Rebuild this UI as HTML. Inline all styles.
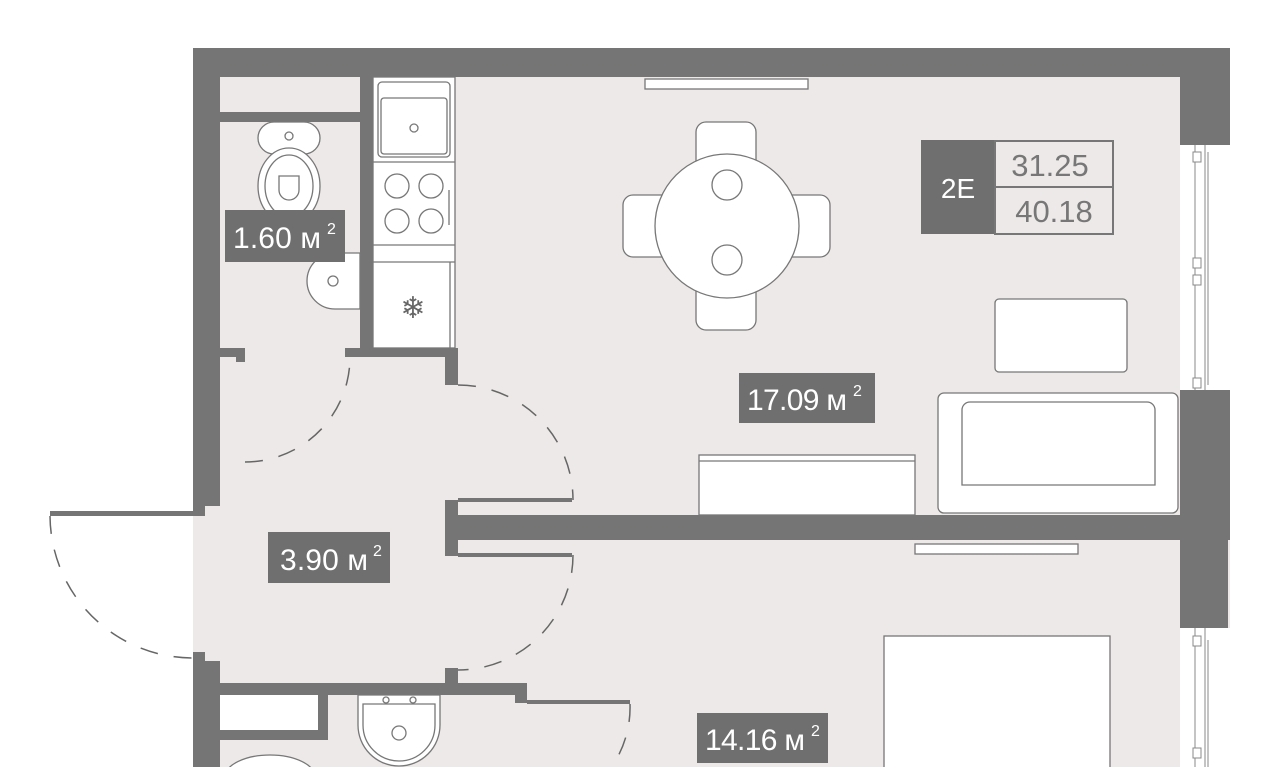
<!DOCTYPE html>
<html><head><meta charset="utf-8"><style>
html,body{margin:0;padding:0;background:#fff;width:1280px;height:767px;overflow:hidden}
svg{display:block}
text{font-family:"Liberation Sans",sans-serif;}
</style></head><body>
<svg width="1280" height="767" viewBox="0 0 1280 767" xmlns="http://www.w3.org/2000/svg">
<rect x="193" y="48" width="1037" height="719" fill="#ede9e8"/>
<g fill="#757575">
<rect x="193" y="48" width="1037" height="29"/>
<rect x="193" y="48" width="27" height="458"/>
<rect x="193" y="661" width="27" height="106"/>
<rect x="193" y="506" width="12" height="10"/>
<rect x="193" y="652" width="12" height="10"/>
<rect x="1180" y="48" width="50" height="97"/>
<rect x="1180" y="390" width="50" height="125"/>
<rect x="1180" y="515" width="48" height="113"/>
<rect x="220" y="112" width="140" height="10"/>
<rect x="360" y="77" width="13" height="280"/>
<rect x="345" y="348" width="113" height="9"/>
<rect x="445" y="348" width="13" height="37"/>
<rect x="220" y="348" width="25" height="9"/>
<rect x="236" y="348" width="9" height="14"/>
<rect x="455" y="515" width="775" height="25"/>
<rect x="445" y="500" width="13" height="56"/>
<rect x="458" y="498" width="114" height="4"/>
<rect x="458" y="553" width="114" height="4"/>
<rect x="220" y="683" width="305" height="12"/>
<rect x="445" y="668" width="13" height="27"/>
<rect x="515" y="683" width="12" height="20"/>
<rect x="527" y="700" width="103" height="4"/>
<rect x="318" y="683" width="10" height="57"/>
<rect x="220" y="730" width="108" height="10"/>
<rect x="50" y="511" width="143" height="5"/>
</g>
<g fill="#fff" stroke="#888" stroke-width="1">
<rect x="1180" y="145" width="50" height="245" stroke="none"/>
<rect x="1180" y="628" width="50" height="139" stroke="none"/>
<line x1="1195" y1="145" x2="1195" y2="390"/><line x1="1205" y1="145" x2="1205" y2="390"/><line x1="1208" y1="152" x2="1208" y2="385"/>
<line x1="1195" y1="628" x2="1195" y2="767"/><line x1="1205" y1="628" x2="1205" y2="767"/><line x1="1208" y1="640" x2="1208" y2="767"/>
<rect x="1193" y="152" width="8" height="10"/><rect x="1193" y="258" width="8" height="10"/><rect x="1193" y="275" width="8" height="10"/><rect x="1193" y="378" width="8" height="10"/>
<rect x="1193" y="636" width="8" height="10"/><rect x="1193" y="748" width="8" height="10"/>
</g>
<g fill="none" stroke="#666" stroke-width="1.5" stroke-dasharray="18 16">
<path d="M50 516 A143 143 0 0 0 193 658"/>
<path d="M245 462 A105 105 0 0 0 350 357"/>
<path d="M458 385 A115 115 0 0 1 573 500"/>
<path d="M573 555 A115 115 0 0 1 458 670"/>
<path d="M630 704 A105 105 0 0 1 590 790"/>
</g>
<g fill="#fff" stroke="#777" stroke-width="1.3">
<rect x="373" y="77" width="82" height="271"/>
<rect x="378" y="82" width="72" height="75" rx="4"/>
<rect x="381" y="98" width="66" height="56" rx="3"/>
<circle cx="414" cy="128" r="4"/>
<line x1="373" y1="162" x2="455" y2="162"/>
<circle cx="397" cy="186" r="12"/><circle cx="431" cy="186" r="12"/><circle cx="397" cy="221" r="12"/><circle cx="431" cy="221" r="12"/>
<line x1="449" y1="190" x2="449" y2="225"/>
<line x1="373" y1="245" x2="455" y2="245"/><line x1="373" y1="262" x2="455" y2="262"/>
<line x1="450" y1="262" x2="450" y2="348"/>
<rect x="258" y="122" width="62" height="32" rx="16"/>
<circle cx="289" cy="136" r="4"/>
<ellipse cx="289" cy="186" rx="31" ry="38"/>
<ellipse cx="289" cy="186" rx="24" ry="31"/>
<path d="M279 176 h20 v14 a10 10 0 0 1 -20 0 z"/>
<path d="M360 253 h-25 a28 28 0 0 0 0 56 h25 z"/>
<circle cx="333" cy="281" r="5"/>
<rect x="696" y="122" width="60" height="90" rx="10"/>
<rect x="696" y="240" width="60" height="90" rx="10"/>
<rect x="623" y="195" width="80" height="62" rx="10"/>
<rect x="750" y="195" width="80" height="62" rx="10"/>
<circle cx="727" cy="226" r="72"/>
<circle cx="727" cy="185" r="15"/><circle cx="727" cy="260" r="15"/>
<rect x="645" y="79" width="163" height="10"/>
<rect x="915" y="544" width="163" height="10"/>
<rect x="699" y="455" width="216" height="60"/>
<line x1="699" y1="461" x2="915" y2="461"/>
<rect x="995" y="299" width="132" height="73" rx="4"/>
<rect x="938" y="393" width="240" height="120" rx="6"/>
<path d="M962 485 V410 a8 8 0 0 1 8 -8 h177 a8 8 0 0 1 8 8 V485 Z"/>
<rect x="884" y="636" width="226" height="140"/>
<rect x="220" y="695" width="98" height="35" stroke="none"/>
<path d="M358 695 h82 v30 a41 41 0 0 1 -82 0 z"/>
<path d="M363 704 h72 v21 a36 36 0 0 1 -72 0 z"/>
<circle cx="399" cy="733" r="7"/>
<circle cx="386" cy="700" r="3"/><circle cx="413" cy="700" r="3"/>
<ellipse cx="270" cy="777" rx="45" ry="22"/>
</g>
<text x="413" y="318" font-size="30" text-anchor="middle" fill="#666">❄</text>
<g fill="#6f6f6f">
<rect x="225" y="210" width="120" height="52"/>
<rect x="739" y="373" width="136" height="50"/>
<rect x="268" y="532" width="122" height="51"/>
<rect x="697" y="713" width="131" height="50"/>
<rect x="921" y="140" width="74" height="94"/>
</g>
<g fill="#fff" font-size="30">
<text x="233" y="248" textLength="88">1.60 м</text><text x="327" y="234" font-size="16">2</text>
<text x="747" y="410" textLength="100">17.09 м</text><text x="853" y="396" font-size="16">2</text>
<text x="280" y="570" textLength="88">3.90 м</text><text x="373" y="556" font-size="16">2</text>
<text x="705" y="750" textLength="100">14.16 м</text><text x="811" y="736" font-size="16">2</text>
<text x="958" y="198" text-anchor="middle" font-size="28">2E</text>
</g>
<rect x="995" y="141" width="118" height="46" fill="none" stroke="#777" stroke-width="2"/>
<rect x="995" y="187" width="118" height="47" fill="none" stroke="#777" stroke-width="2"/>
<g fill="#777" font-size="31" text-anchor="middle">
<text x="1050" y="176">31.25</text>
<text x="1054" y="222">40.18</text>
</g>
</svg>
</body></html>
